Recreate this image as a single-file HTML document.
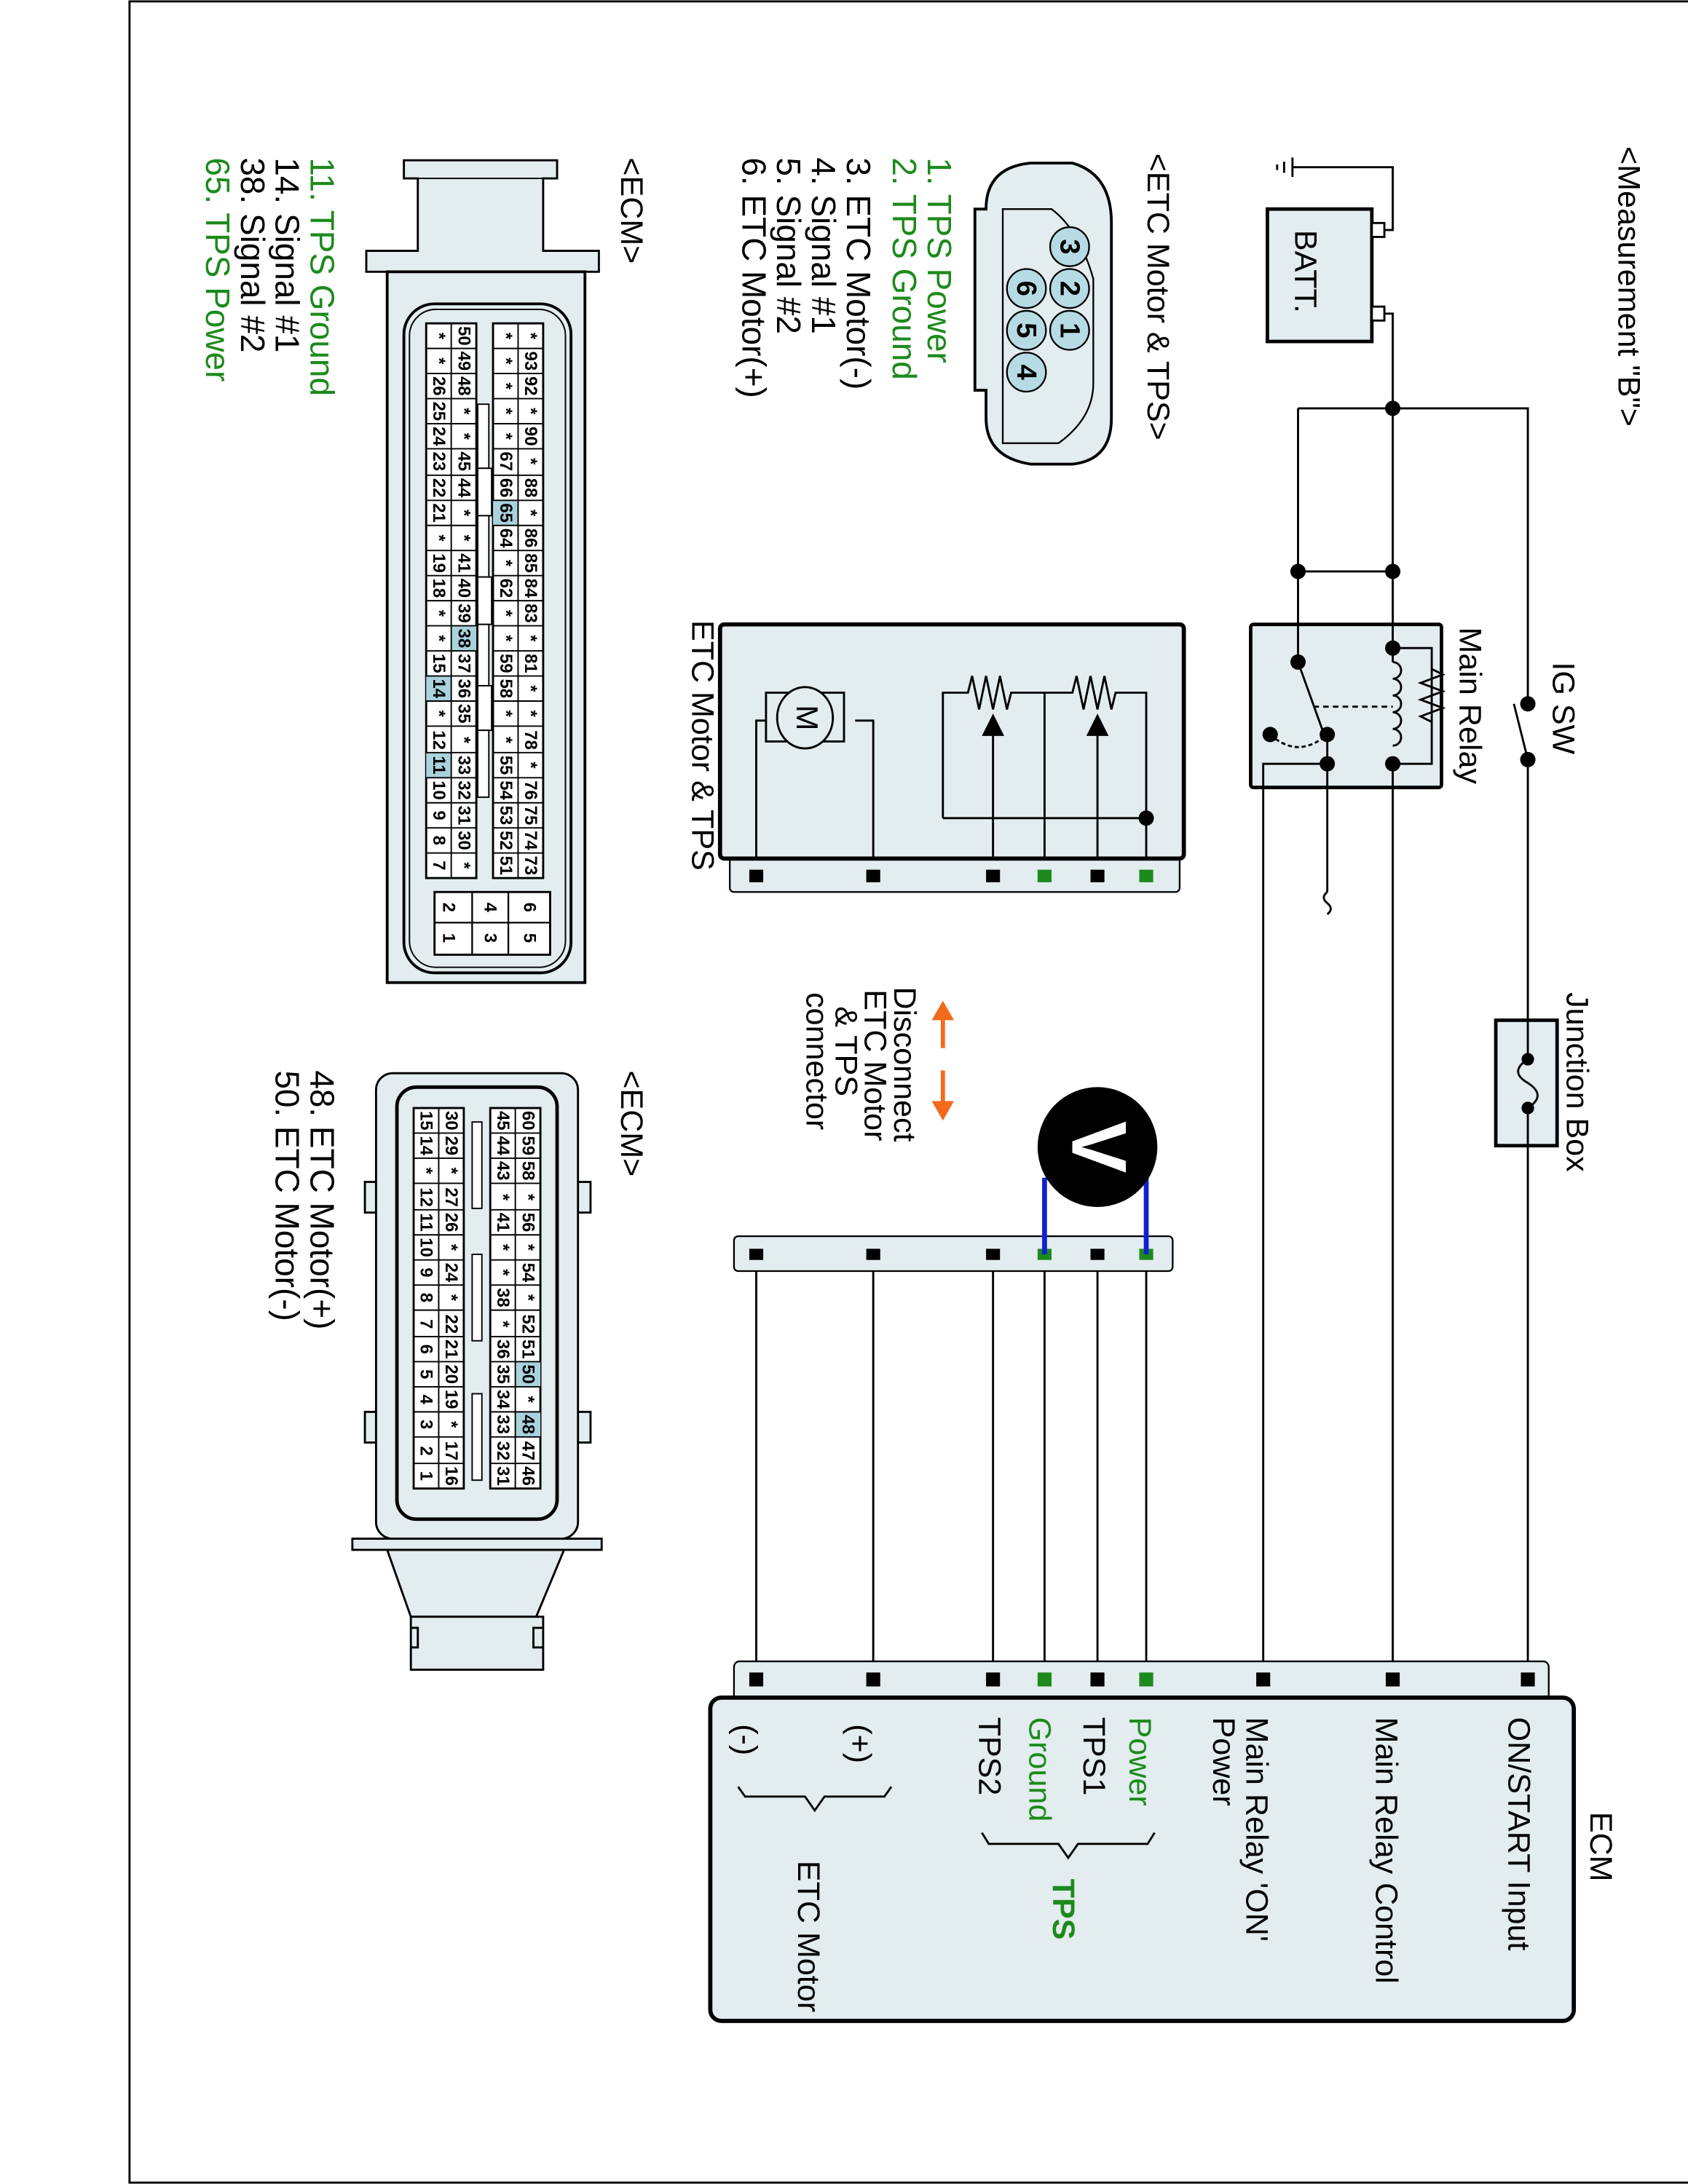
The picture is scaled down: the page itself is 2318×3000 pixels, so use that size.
<!DOCTYPE html>
<html><head><meta charset="utf-8"><style>
html,body{margin:0;padding:0;background:#fff;}
svg{display:block;}
text{font-family:"Liberation Sans",Arial,sans-serif;}
.c{font-size:12.5px;font-weight:bold;text-anchor:middle;dominant-baseline:central;}
.l{font-size:22.5px;}
.lg{font-size:24px;}
.g{fill:#1c8a1c;}
</style></head><body>
<svg width="2318" height="3000" viewBox="0 0 1212 1567" preserveAspectRatio="none" xmlns="http://www.w3.org/2000/svg">
<rect x="93" y="1" width="1125" height="1565" fill="#fff" stroke="#000" stroke-width="1.5"/>

<text class="l" transform="translate(1162,105) rotate(90)">&lt;Measurement "B"&gt;</text>

<!-- Battery -->
<rect x="910" y="150" width="75" height="95" fill="#e3ecee" stroke="#000" stroke-width="2.5"/>
<text class="l" transform="translate(930,165) rotate(90)">BATT.</text>
<rect x="985" y="160" width="9" height="10" fill="#fff" stroke="#000" stroke-width="1.5"/>
<rect x="985" y="220" width="9" height="10" fill="#fff" stroke="#000" stroke-width="1.5"/>
<g fill="none" stroke="#000" stroke-width="1.5">
<path d="M994,165 H1000 V120 H928"/>
<path d="M928,113 V127 M922,116 V124 M917,118 V122"/>
<path d="M994,225 H1000 V1205"/>
<path d="M932,293 H1097 V505 M1097,545 V1205"/>
<path d="M1097,545 L1087,505"/>
<path d="M932,293 V475 M932,410 H1000"/>
<path d="M953,527 V640 M953,548 H907 V1205"/>
<path d="M953,640 q-5,4 0,8 q5,4 0,8"/>
</g>
<rect x="898" y="448" width="137" height="117" fill="#e3ecee" stroke="#000" stroke-width="2.5" rx="2"/>
<g fill="none" stroke="#000" stroke-width="1.5">
<path d="M932,448 V475 M932,475 L950,525 M953,527 V565 M953,548 H907 V565 M1000,448 V475 M1000,465 H1028 V548 H1000 V565"/>
<path d="M1028,480 l8,4 -16,6 16,6 -16,6 16,6 -16,6 8,4"/>
<path d="M1000,475 a6,6 0 0 1 0,12 a6,6 0 0 1 0,12 a6,6 0 0 1 0,12 a6,6 0 0 1 0,12 a6,6 0 0 1 0,12"/>
<path d="M943,507 H1000" stroke-dasharray="4,3"/>
<path d="M912,527 q20,18 41,0" stroke-dasharray="3,2"/>
</g>
<g fill="#000">
<circle cx="1000" cy="293" r="5.5"/><circle cx="932" cy="410" r="5.5"/><circle cx="1000" cy="410" r="5.5"/>
<circle cx="932" cy="475" r="5.5"/><circle cx="953" cy="527" r="5.5"/><circle cx="953" cy="548" r="5.5"/><circle cx="912" cy="527" r="5.5"/>
<circle cx="1000" cy="465" r="5.5"/><circle cx="1000" cy="548" r="5.5"/>
<circle cx="1097" cy="505" r="5.5"/><circle cx="1097" cy="545" r="5.5"/>
</g>
<text class="l" transform="translate(1048,450) rotate(90)">Main Relay</text>
<text class="l" transform="translate(1115,475) rotate(90)">IG SW</text>

<!-- Junction box -->
<rect x="1074" y="732" width="44" height="90" fill="#e3ecee" stroke="#000" stroke-width="2.5"/>
<path d="M1097,732 V760 M1097,795 V822" stroke="#000" stroke-width="1.5"/>
<path d="M1097,760 q-14,9 0,17 q14,9 0,18" fill="none" stroke="#000" stroke-width="1.5"/>
<circle cx="1097" cy="760" r="4.5"/><circle cx="1097" cy="795" r="4.5"/>
<text class="l" transform="translate(1125,712) rotate(90)">Junction Box</text>

<g stroke="#000" stroke-width="1.5">
<path d="M543,900 V1205 M627,900 V1205 M713,900 V1205 M750,900 V1205 M788,900 V1205 M823,900 V1205"/>
</g>
<!-- ECM box -->
<rect x="527" y="1192" width="585" height="30" rx="4" fill="#e3ecee" stroke="#000" stroke-width="1.2"/>
<rect x="510" y="1218" width="620" height="232" rx="8" fill="#e3ecee" stroke="#000" stroke-width="3"/>
<g fill="#000">
<rect x="538" y="1200" width="10" height="10"/><rect x="622" y="1200" width="10" height="10"/><rect x="708" y="1200" width="10" height="10"/>
<rect x="783" y="1200" width="10" height="10"/><rect x="902" y="1200" width="10" height="10"/><rect x="995" y="1200" width="10" height="10"/><rect x="1092" y="1200" width="10" height="10"/>
</g>
<rect x="745" y="1200" width="10" height="10" fill="#1c8a1c"/><rect x="818" y="1200" width="10" height="10" fill="#1c8a1c"/>
<text class="l" transform="translate(1142,1300) rotate(90)">ECM</text>
<text class="l" transform="translate(1083,1232) rotate(90)">ON/START Input</text>
<text class="l" transform="translate(988,1232) rotate(90)">Main Relay Control</text>
<text class="l" transform="translate(895,1232) rotate(90)">Main Relay 'ON'</text>
<text class="l" transform="translate(871,1232) rotate(90)">Power</text>
<text class="l g" transform="translate(811,1232) rotate(90)">Power</text>
<text class="l" transform="translate(778,1232) rotate(90)">TPS1</text>
<text class="l g" transform="translate(739,1232) rotate(90)">Ground</text>
<text class="l" transform="translate(703,1232) rotate(90)">TPS2</text>
<text class="l" transform="translate(610,1237) rotate(90)">(+)</text>
<text class="l" transform="translate(528,1237) rotate(90)">(-)</text>
<path d="M705,1315 l5,8 h50 l7,10 l7,-10 h50 l5,-8" fill="none" stroke="#000" stroke-width="1.5"/>
<text class="l g" transform="translate(756,1348) rotate(90)" style="font-weight:bold">TPS</text>
<path d="M530,1282 l5,7 h43 l7,10 l7,-10 h43 l5,-7" fill="none" stroke="#000" stroke-width="1.5"/>
<text class="l" transform="translate(573,1335) rotate(90)">ETC Motor</text>

<!-- Disconnected ETC connector -->
<rect x="527" y="887" width="315" height="25" rx="3" fill="#e3ecee" stroke="#000" stroke-width="1.2"/>
<g fill="#000"><rect x="538" y="896" width="10" height="8"/><rect x="622" y="896" width="10" height="8"/><rect x="708" y="896" width="10" height="8"/><rect x="783" y="896" width="10" height="8"/></g>
<rect x="745" y="896" width="10" height="8" fill="#1c8a1c"/><rect x="818" y="896" width="10" height="8" fill="#1c8a1c"/>
<path d="M750,845 V900 M823,845 V900" stroke="#1020d0" stroke-width="3.5"/>
<circle cx="788" cy="823" r="43" fill="#000"/>
<text transform="translate(770,823) rotate(90)" style="font-size:56px;font-weight:bold;fill:#fff;text-anchor:middle">V</text>
<path d="M677,732 V752 M677,768 V792" stroke="#f26a1b" stroke-width="3"/>
<path d="M677,718 l-8,14 h16 z M677,804 l-8,-14 h16 z" fill="#f26a1b"/>
<text class="l" transform="translate(642,708) rotate(90)">Disconnect</text>
<text class="l" transform="translate(621,710) rotate(90)">ETC Motor</text>
<text class="l" transform="translate(600,722) rotate(90)">&amp; TPS</text>
<text class="l" transform="translate(579,712) rotate(90)">connector</text>

<!-- ETC Motor & TPS box -->
<rect x="524" y="612" width="323" height="28" rx="3" fill="#e3ecee" stroke="#000" stroke-width="1.2"/>
<rect x="517" y="448" width="333" height="168" rx="3" fill="#e3ecee" stroke="#000" stroke-width="3"/>
<g fill="#000"><rect x="538" y="624" width="10" height="9"/><rect x="622" y="624" width="10" height="9"/><rect x="708" y="624" width="10" height="9"/><rect x="783" y="624" width="10" height="9"/></g>
<rect x="745" y="624" width="10" height="9" fill="#1c8a1c"/><rect x="818" y="624" width="10" height="9" fill="#1c8a1c"/>
<g fill="none" stroke="#000" stroke-width="1.5">
<path d="M543,616 V517 H556 M627,616 V517 H614"/>
<rect x="550" y="497" width="56" height="35" fill="#e3ecee"/>
<ellipse cx="578" cy="515" rx="20" ry="22" fill="#e3ecee"/>
<path d="M677,587 V497 H695 l3,-12 l5,24 l5,-24 l5,24 l5,-24 l5,24 l3,-12 H770 l3,-12 l5,24 l5,-24 l5,24 l5,-24 l5,24 l3,-12 H823 V616"/>
<path d="M677,587 H823"/>
<path d="M750,497 V616 M713,528 V616 M788,528 V616"/>
</g>
<path d="M713,512 l-8,16 h16 z M788,512 l-8,16 h16 z" fill="#000"/>
<circle cx="823" cy="587" r="5.5" fill="#000"/>
<text transform="translate(572,515) rotate(90)" style="font-size:22px;text-anchor:middle">M</text>
<text class="l" transform="translate(497,445) rotate(90)">ETC Motor &amp; TPS</text>

<!-- ETC connector face -->
<text class="l" transform="translate(824,110) rotate(90)">&lt;ETC Motor &amp; TPS&gt;</text>
<path d="M740,117 H770 Q798,125 798,160 V300 Q798,330 770,333 H740 Q708,328 708,300 V280 H700 V150 H708 V150 Q708,120 740,117 Z" fill="#e3ecee" stroke="#000" stroke-width="2"/>
<path d="M720,150 H755 Q775,165 785,200 V275 Q785,300 760,318 H720 V150 Z" fill="none" stroke="#000" stroke-width="1.2"/>
<g fill="#b7dbe4" stroke="#000" stroke-width="1.2">
<circle cx="768" cy="177" r="14"/><circle cx="768" cy="207" r="14"/><circle cx="768" cy="237" r="14"/>
<circle cx="737" cy="207" r="14"/><circle cx="737" cy="237" r="14"/><circle cx="737" cy="267" r="14"/>
</g>
<g style="font-size:20px;font-weight:bold;text-anchor:middle;dominant-baseline:central">
<text transform="translate(768,177) rotate(90)">3</text><text transform="translate(768,207) rotate(90)">2</text><text transform="translate(768,237) rotate(90)">1</text>
<text transform="translate(737,207) rotate(90)">6</text><text transform="translate(737,237) rotate(90)">5</text><text transform="translate(737,267) rotate(90)">4</text>
</g>
<text class="lg g" transform="translate(666,113) rotate(90)">1. TPS Power</text>
<text class="lg g" transform="translate(641,113) rotate(90)">2. TPS Ground</text>
<text class="lg" transform="translate(608,113) rotate(90)">3. ETC Motor(-)</text>
<text class="lg" transform="translate(583,113) rotate(90)">4. Signal #1</text>
<text class="lg" transform="translate(558,113) rotate(90)">5. Signal #2</text>
<text class="lg" transform="translate(533,113) rotate(90)">6. ETC Motor(+)</text>

<!-- ECM connector 1 -->
<text class="l" transform="translate(446,113) rotate(90)">&lt;ECM&gt;</text>
<path d="M290,115 H400 V128 H390 V180 H430 V195 H263 V180 H300 V128 H290 Z" fill="#e3ecee" stroke="#000" stroke-width="1.5"/>
<path d="M300,128 H390" fill="none" stroke="#000" stroke-width="1"/>
<rect x="278" y="195" width="142" height="510" fill="#e3ecee" stroke="#000" stroke-width="2"/>
<rect x="290" y="218" width="120" height="480" rx="22" fill="none" stroke="#000" stroke-width="2"/>
<rect x="294" y="222" width="112" height="472" rx="19" fill="none" stroke="#000" stroke-width="1"/>
<g fill="#fff" stroke="#000" stroke-width="1.5">
<rect x="306" y="232" width="36" height="398"/><rect x="354" y="232" width="36" height="398"/>
</g>
<g fill="#a9d2dc"><rect x="354" y="359" width="18" height="18"/><rect x="324" y="449" width="18" height="18"/><rect x="306" y="485" width="18" height="18"/><rect x="306" y="540" width="18" height="18"/></g>
<g stroke="#000" stroke-width="1">
<path d="M324,232 V630 M372,232 V630"/>
<path d="M306,250 H342 M306,268 H342 M306,286 H342 M306,304 H342 M306,322 H342 M306,341 H342 M306,359 H342 M306,377 H342 M306,395 H342 M306,413 H342 M306,431 H342 M306,449 H342 M306,467 H342 M306,485 H342 M306,503 H342 M306,521 H342 M306,540 H342 M306,558 H342 M306,576 H342 M306,594 H342 M306,612 H342"/>
<path d="M354,250 H390 M354,268 H390 M354,286 H390 M354,304 H390 M354,322 H390 M354,341 H390 M354,359 H390 M354,377 H390 M354,395 H390 M354,413 H390 M354,431 H390 M354,449 H390 M354,467 H390 M354,485 H390 M354,503 H390 M354,521 H390 M354,540 H390 M354,558 H390 M354,576 H390 M354,594 H390 M354,612 H390"/>
</g>
<g fill="#fff" stroke="#000" stroke-width="1">
<rect x="343" y="290" width="8" height="46"/><rect x="343" y="336" width="10" height="34"/><rect x="343" y="370" width="8" height="44"/><rect x="343" y="414" width="10" height="34"/><rect x="343" y="448" width="8" height="44"/><rect x="343" y="492" width="10" height="32"/><rect x="343" y="524" width="8" height="48"/>
</g>
<g class="c">
<g transform="translate(381,0)">
<text transform="translate(0,241) rotate(90)">*</text><text transform="translate(0,259) rotate(90)">93</text><text transform="translate(0,277) rotate(90)">92</text><text transform="translate(0,295) rotate(90)">*</text><text transform="translate(0,313) rotate(90)">90</text><text transform="translate(0,331) rotate(90)">*</text><text transform="translate(0,350) rotate(90)">88</text><text transform="translate(0,368) rotate(90)">*</text><text transform="translate(0,386) rotate(90)">86</text><text transform="translate(0,404) rotate(90)">85</text><text transform="translate(0,422) rotate(90)">84</text><text transform="translate(0,440) rotate(90)">83</text><text transform="translate(0,458) rotate(90)">*</text><text transform="translate(0,476) rotate(90)">81</text><text transform="translate(0,494) rotate(90)">*</text><text transform="translate(0,512) rotate(90)">*</text><text transform="translate(0,531) rotate(90)">78</text><text transform="translate(0,549) rotate(90)">*</text><text transform="translate(0,567) rotate(90)">76</text><text transform="translate(0,585) rotate(90)">75</text><text transform="translate(0,603) rotate(90)">74</text><text transform="translate(0,621) rotate(90)">73</text>
</g>
<g transform="translate(363,0)">
<text transform="translate(0,241) rotate(90)">*</text><text transform="translate(0,259) rotate(90)">*</text><text transform="translate(0,277) rotate(90)">*</text><text transform="translate(0,295) rotate(90)">*</text><text transform="translate(0,313) rotate(90)">*</text><text transform="translate(0,331) rotate(90)">67</text><text transform="translate(0,350) rotate(90)">66</text><text transform="translate(0,368) rotate(90)">65</text><text transform="translate(0,386) rotate(90)">64</text><text transform="translate(0,404) rotate(90)">*</text><text transform="translate(0,422) rotate(90)">62</text><text transform="translate(0,440) rotate(90)">*</text><text transform="translate(0,458) rotate(90)">*</text><text transform="translate(0,476) rotate(90)">59</text><text transform="translate(0,494) rotate(90)">58</text><text transform="translate(0,512) rotate(90)">*</text><text transform="translate(0,531) rotate(90)">*</text><text transform="translate(0,549) rotate(90)">55</text><text transform="translate(0,567) rotate(90)">54</text><text transform="translate(0,585) rotate(90)">53</text><text transform="translate(0,603) rotate(90)">52</text><text transform="translate(0,621) rotate(90)">51</text>
</g>
<g transform="translate(333,0)">
<text transform="translate(0,241) rotate(90)">50</text><text transform="translate(0,259) rotate(90)">49</text><text transform="translate(0,277) rotate(90)">48</text><text transform="translate(0,295) rotate(90)">*</text><text transform="translate(0,313) rotate(90)">*</text><text transform="translate(0,331) rotate(90)">45</text><text transform="translate(0,350) rotate(90)">44</text><text transform="translate(0,368) rotate(90)">*</text><text transform="translate(0,386) rotate(90)">*</text><text transform="translate(0,404) rotate(90)">41</text><text transform="translate(0,422) rotate(90)">40</text><text transform="translate(0,440) rotate(90)">39</text><text transform="translate(0,458) rotate(90)">38</text><text transform="translate(0,476) rotate(90)">37</text><text transform="translate(0,494) rotate(90)">36</text><text transform="translate(0,512) rotate(90)">35</text><text transform="translate(0,531) rotate(90)">*</text><text transform="translate(0,549) rotate(90)">33</text><text transform="translate(0,567) rotate(90)">32</text><text transform="translate(0,585) rotate(90)">31</text><text transform="translate(0,603) rotate(90)">30</text><text transform="translate(0,621) rotate(90)">*</text>
</g>
<g transform="translate(315,0)">
<text transform="translate(0,241) rotate(90)">*</text><text transform="translate(0,259) rotate(90)">*</text><text transform="translate(0,277) rotate(90)">26</text><text transform="translate(0,295) rotate(90)">25</text><text transform="translate(0,313) rotate(90)">24</text><text transform="translate(0,331) rotate(90)">23</text><text transform="translate(0,350) rotate(90)">22</text><text transform="translate(0,368) rotate(90)">21</text><text transform="translate(0,386) rotate(90)">*</text><text transform="translate(0,404) rotate(90)">19</text><text transform="translate(0,422) rotate(90)">18</text><text transform="translate(0,440) rotate(90)">*</text><text transform="translate(0,458) rotate(90)">*</text><text transform="translate(0,476) rotate(90)">15</text><text transform="translate(0,494) rotate(90)">14</text><text transform="translate(0,512) rotate(90)">*</text><text transform="translate(0,531) rotate(90)">12</text><text transform="translate(0,549) rotate(90)">11</text><text transform="translate(0,567) rotate(90)">10</text><text transform="translate(0,585) rotate(90)">9</text><text transform="translate(0,603) rotate(90)">8</text><text transform="translate(0,621) rotate(90)">7</text>
</g>
</g>
<rect x="312" y="640" width="83" height="45" fill="#fff" stroke="#000" stroke-width="1.5"/>
<path d="M312,662 H395 M339,640 V685 M365,640 V685" stroke="#000" stroke-width="1.2"/>
<g class="c">
<text transform="translate(322,651) rotate(90)">2</text><text transform="translate(322,673) rotate(90)">1</text>
<text transform="translate(352,651) rotate(90)">4</text><text transform="translate(352,673) rotate(90)">3</text>
<text transform="translate(380,651) rotate(90)">6</text><text transform="translate(380,673) rotate(90)">5</text>
</g>
<text class="lg g" transform="translate(223,113) rotate(90)">11. TPS Ground</text>
<text class="lg" transform="translate(198,113) rotate(90)">14. Signal #1</text>
<text class="lg" transform="translate(173,113) rotate(90)">38. Signal #2</text>
<text class="lg g" transform="translate(148,113) rotate(90)">65. TPS Power</text>

<!-- ECM connector 2 -->
<text class="l" transform="translate(446,768) rotate(90)">&lt;ECM&gt;</text>
<g fill="#e3ecee" stroke="#000" stroke-width="1.5">
<rect x="262" y="848" width="12" height="22"/><rect x="412" y="848" width="12" height="22"/>
<rect x="262" y="1013" width="12" height="22"/><rect x="412" y="1013" width="12" height="22"/>
<path d="M278,1112 L295,1160 H385 L405,1112 Z"/>
<rect x="295" y="1160" width="95" height="38"/>
<path d="M295,1168 H300 V1182 H295 M390,1168 H383 V1182 H390" fill="none"/>
<rect x="253" y="1104" width="179" height="8"/>
<rect x="270" y="770" width="145" height="334" rx="12"/>
</g>
<rect x="285" y="780" width="115" height="310" rx="14" fill="none" stroke="#000" stroke-width="2.5"/>
<g fill="#fff" stroke="#000" stroke-width="1.5">
<rect x="297" y="795" width="36" height="273"/><rect x="352" y="795" width="36" height="273"/>
</g>
<g fill="#a9d2dc"><rect x="370" y="977" width="18" height="18"/><rect x="370" y="1013" width="18" height="18"/></g>
<g stroke="#000" stroke-width="1">
<path d="M315,795 V1068 M370,795 V1068"/>
<path d="M297,813 H333 M297,831 H333 M297,849 H333 M297,868 H333 M297,886 H333 M297,904 H333 M297,922 H333 M297,940 H333 M297,959 H333 M297,977 H333 M297,995 H333 M297,1013 H333 M297,1031 H333 M297,1050 H333"/>
<path d="M352,813 H388 M352,831 H388 M352,849 H388 M352,868 H388 M352,886 H388 M352,904 H388 M352,922 H388 M352,940 H388 M352,959 H388 M352,977 H388 M352,995 H388 M352,1013 H388 M352,1031 H388 M352,1050 H388"/>
</g>
<g fill="#fff" stroke="#000" stroke-width="1">
<rect x="339" y="805" width="7" height="62"/><rect x="339" y="900" width="7" height="62"/><rect x="339" y="1000" width="7" height="62"/>
</g>
<g class="c">
<g transform="translate(379,0)">
<text transform="translate(0,804) rotate(90)">60</text><text transform="translate(0,822) rotate(90)">59</text><text transform="translate(0,840) rotate(90)">58</text><text transform="translate(0,859) rotate(90)">*</text><text transform="translate(0,877) rotate(90)">56</text><text transform="translate(0,895) rotate(90)">*</text><text transform="translate(0,913) rotate(90)">54</text><text transform="translate(0,931) rotate(90)">*</text><text transform="translate(0,950) rotate(90)">52</text><text transform="translate(0,968) rotate(90)">51</text><text transform="translate(0,986) rotate(90)">50</text><text transform="translate(0,1004) rotate(90)">*</text><text transform="translate(0,1022) rotate(90)">48</text><text transform="translate(0,1041) rotate(90)">47</text><text transform="translate(0,1059) rotate(90)">46</text>
</g>
<g transform="translate(361,0)">
<text transform="translate(0,804) rotate(90)">45</text><text transform="translate(0,822) rotate(90)">44</text><text transform="translate(0,840) rotate(90)">43</text><text transform="translate(0,859) rotate(90)">*</text><text transform="translate(0,877) rotate(90)">41</text><text transform="translate(0,895) rotate(90)">*</text><text transform="translate(0,913) rotate(90)">*</text><text transform="translate(0,931) rotate(90)">38</text><text transform="translate(0,950) rotate(90)">*</text><text transform="translate(0,968) rotate(90)">36</text><text transform="translate(0,986) rotate(90)">35</text><text transform="translate(0,1004) rotate(90)">34</text><text transform="translate(0,1022) rotate(90)">33</text><text transform="translate(0,1041) rotate(90)">32</text><text transform="translate(0,1059) rotate(90)">31</text>
</g>
<g transform="translate(324,0)">
<text transform="translate(0,804) rotate(90)">30</text><text transform="translate(0,822) rotate(90)">29</text><text transform="translate(0,840) rotate(90)">*</text><text transform="translate(0,859) rotate(90)">27</text><text transform="translate(0,877) rotate(90)">26</text><text transform="translate(0,895) rotate(90)">*</text><text transform="translate(0,913) rotate(90)">24</text><text transform="translate(0,931) rotate(90)">*</text><text transform="translate(0,950) rotate(90)">22</text><text transform="translate(0,968) rotate(90)">21</text><text transform="translate(0,986) rotate(90)">20</text><text transform="translate(0,1004) rotate(90)">19</text><text transform="translate(0,1022) rotate(90)">*</text><text transform="translate(0,1041) rotate(90)">17</text><text transform="translate(0,1059) rotate(90)">16</text>
</g>
<g transform="translate(306,0)">
<text transform="translate(0,804) rotate(90)">15</text><text transform="translate(0,822) rotate(90)">14</text><text transform="translate(0,840) rotate(90)">*</text><text transform="translate(0,859) rotate(90)">12</text><text transform="translate(0,877) rotate(90)">11</text><text transform="translate(0,895) rotate(90)">10</text><text transform="translate(0,913) rotate(90)">9</text><text transform="translate(0,931) rotate(90)">8</text><text transform="translate(0,950) rotate(90)">7</text><text transform="translate(0,968) rotate(90)">6</text><text transform="translate(0,986) rotate(90)">5</text><text transform="translate(0,1004) rotate(90)">4</text><text transform="translate(0,1022) rotate(90)">3</text><text transform="translate(0,1041) rotate(90)">2</text><text transform="translate(0,1059) rotate(90)">1</text>
</g>
</g>
<text class="lg" transform="translate(223,768) rotate(90)">48. ETC Motor(+)</text>
<text class="lg" transform="translate(198,768) rotate(90)">50. ETC Motor(-)</text>
</svg>
</body></html>
